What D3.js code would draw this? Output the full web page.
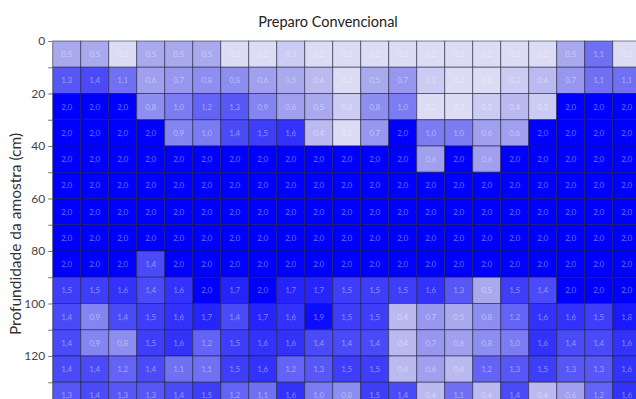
<!DOCTYPE html>
<html>
<head>
<meta charset="utf-8">
<script src="https://cdn.jsdelivr.net/npm/d3@7"></script>
<style>
  html, body { margin: 0; padding: 0; background: #fff; overflow: hidden; }
  svg { display: block; }
</style>
</head>
<body>
<svg id="chart" width="636" height="399"></svg>
<script>
// Sampling positions along the transect (columns) and depth layers in cm (rows)
const samplePoints = [1, 2, 3, 4, 5, 6, 7, 8, 9, 10, 11, 12, 13, 14, 15, 16, 17, 18, 19, 20, 21];
const depths = [0, 10, 20, 30, 40, 50, 60, 70, 80, 90, 100, 110, 120, 130];

// One array of readings per depth layer
const layer0   = [0.5, 0.5, 0.2, 0.5, 0.5, 0.5, 0.2, 0.2, 0.3, 0.2, 0.2, 0.2, 0.2, 0.2, 0.2, 0.2, 0.2, 0.2, 0.5, 1.1, 0.2];
const layer10  = [1.3, 1.4, 1.1, 0.6, 0.7, 0.8, 0.8, 0.6, 0.5, 0.4, 0.2, 0.5, 0.7, 0.3, 0.2, 0.2, 0.3, 0.4, 0.7, 1.1, 1.1];
const layer20  = [2.0, 2.0, 2.0, 0.8, 1.0, 1.2, 1.3, 0.9, 0.6, 0.5, 0.3, 0.8, 1.0, 0.2, 0.2, 0.3, 0.4, 0.3, 2.0, 2.0, 2.0];
const layer30  = [2.0, 2.0, 2.0, 2.0, 0.9, 1.0, 1.4, 1.5, 1.6, 0.4, 0.2, 0.7, 2.0, 1.0, 1.0, 0.6, 0.6, 2.0, 2.0, 2.0, 2.0];
const layer40  = [2.0, 2.0, 2.0, 2.0, 2.0, 2.0, 2.0, 2.0, 2.0, 2.0, 2.0, 2.0, 2.0, 0.6, 2.0, 0.6, 2.0, 2.0, 2.0, 2.0, 2.0];
const layer50  = [2.0, 2.0, 2.0, 2.0, 2.0, 2.0, 2.0, 2.0, 2.0, 2.0, 2.0, 2.0, 2.0, 2.0, 2.0, 2.0, 2.0, 2.0, 2.0, 2.0, 2.0];
const layer60  = [2.0, 2.0, 2.0, 2.0, 2.0, 2.0, 2.0, 2.0, 2.0, 2.0, 2.0, 2.0, 2.0, 2.0, 2.0, 2.0, 2.0, 2.0, 2.0, 2.0, 2.0];
const layer70  = [2.0, 2.0, 2.0, 2.0, 2.0, 2.0, 2.0, 2.0, 2.0, 2.0, 2.0, 2.0, 2.0, 2.0, 2.0, 2.0, 2.0, 2.0, 2.0, 2.0, 2.0];
const layer80  = [2.0, 2.0, 2.0, 1.4, 2.0, 2.0, 2.0, 2.0, 2.0, 2.0, 2.0, 2.0, 2.0, 2.0, 2.0, 2.0, 2.0, 2.0, 2.0, 2.0, 2.0];
const layer90  = [1.5, 1.5, 1.6, 1.4, 1.6, 2.0, 1.7, 2.0, 1.7, 1.7, 1.5, 1.5, 1.5, 1.6, 1.3, 0.5, 1.5, 1.4, 2.0, 2.0, 2.0];
const layer100 = [1.4, 0.9, 1.4, 1.5, 1.6, 1.7, 1.4, 1.7, 1.6, 1.9, 1.5, 1.5, 0.4, 0.7, 0.5, 0.8, 1.2, 1.6, 1.6, 1.5, 1.8];
const layer110 = [1.4, 0.9, 0.8, 1.5, 1.6, 1.2, 1.5, 1.6, 1.6, 1.4, 1.4, 1.4, 0.4, 0.7, 0.6, 0.8, 1.0, 1.6, 1.4, 1.4, 1.6];
const layer120 = [1.4, 1.4, 1.2, 1.4, 1.1, 1.1, 1.5, 1.6, 1.2, 1.3, 1.5, 1.5, 0.4, 0.6, 0.4, 1.2, 1.3, 1.5, 1.3, 1.3, 1.6];
const layer130 = [1.3, 1.4, 1.3, 1.3, 1.4, 1.5, 1.2, 1.1, 1.6, 1.0, 0.8, 1.5, 1.4, 0.4, 1.1, 0.4, 1.4, 0.4, 0.6, 1.2, 1.6];

const layers = [layer0, layer10, layer20, layer30, layer40, layer50, layer60,
                layer70, layer80, layer90, layer100, layer110, layer120, layer130];

const depthTicks = [0, 20, 40, 60, 80, 100, 120];
const chartTitle = "Preparo Convencional";
const yTitle = "Profundidade da amostra (cm)";

const cells = [];
layers.forEach((row, i) => row.forEach((v, j) => {
  cells.push({ depth: depths[i], point: samplePoints[j], value: v });
}));

const svg = d3.select("#chart");
const plotLeft = 52.7, plotTop = 41, cellW = 28, cellH = 26.25;
const plotRight = plotLeft + samplePoints.length * cellW;
const plotBottom = plotTop + depths.length * cellH;

const x = d3.scaleBand().domain(samplePoints).range([plotLeft, plotRight]).padding(0);
const y = d3.scaleBand().domain(depths).range([plotTop, plotBottom]).padding(0);
const yLin = d3.scaleLinear().domain([0, depths.length * 10]).range([plotTop, plotBottom]);

// Light lavender for dry layers through to saturated blue
const color = d3.scaleLinear()
  .domain([0.2, 0.5, 1.0, 2.0])
  .range(["#dcdcf5", "#a9a9ee", "#7c7cf2", "#0000ff"])
  .interpolate(d3.interpolateRgb);

const fmt = v => d3.format(".1f")(v).replace(".", ",");
const font = "Lato, 'Noto Sans', sans-serif";

// Heatmap cells
svg.append("g")
  .selectAll("rect")
  .data(cells)
  .join("rect")
  .attr("x", d => x(d.point))
  .attr("y", d => y(d.depth))
  .attr("width", x.bandwidth())
  .attr("height", y.bandwidth())
  .attr("fill", d => color(d.value))
  .attr("stroke", "#1a1a3a")
  .attr("stroke-opacity", 0.55)
  .attr("stroke-width", 1);

// Value labels inside cells
svg.append("g")
  .selectAll("text")
  .data(cells)
  .join("text")
  .attr("x", d => x(d.point) + x.bandwidth() / 2)
  .attr("y", d => y(d.depth) + y.bandwidth() / 2)
  .attr("text-anchor", "middle")
  .attr("dominant-baseline", "central")
  .attr("font-family", font)
  .attr("font-size", 8)
  .attr("fill", "#ffffff")
  .attr("fill-opacity", 0.42)
  .text(d => fmt(d.value));

// Depth axis: ticks every 10 cm, labels every 20 cm
const yAxis = d3.axisLeft(yLin)
  .tickValues(d3.range(0, depths.length * 10 + 1, 10))
  .tickSize(4)
  .tickPadding(3)
  .tickFormat(d => depthTicks.includes(d) ? d : "");

const axisG = svg.append("g")
  .attr("transform", `translate(${plotLeft - 0.5},0)`)
  .call(yAxis);
axisG.select(".domain").remove();
axisG.selectAll(".tick line").attr("stroke", "#777");
axisG.selectAll(".tick text")
  .attr("font-family", font)
  .attr("font-size", 12)
  .attr("fill", "#444");

// Title
svg.append("text")
  .attr("x", 328)
  .attr("y", 27)
  .attr("text-anchor", "middle")
  .attr("font-family", font)
  .attr("font-size", 14.5)
  .attr("fill", "#222")
  .text(chartTitle);

// Y axis title
svg.append("text")
  .attr("transform", "translate(21,234) rotate(-90)")
  .attr("text-anchor", "middle")
  .attr("font-family", font)
  .attr("font-size", 15.5)
  .attr("fill", "#333")
  .text(yTitle);
</script>
</body>
</html>
